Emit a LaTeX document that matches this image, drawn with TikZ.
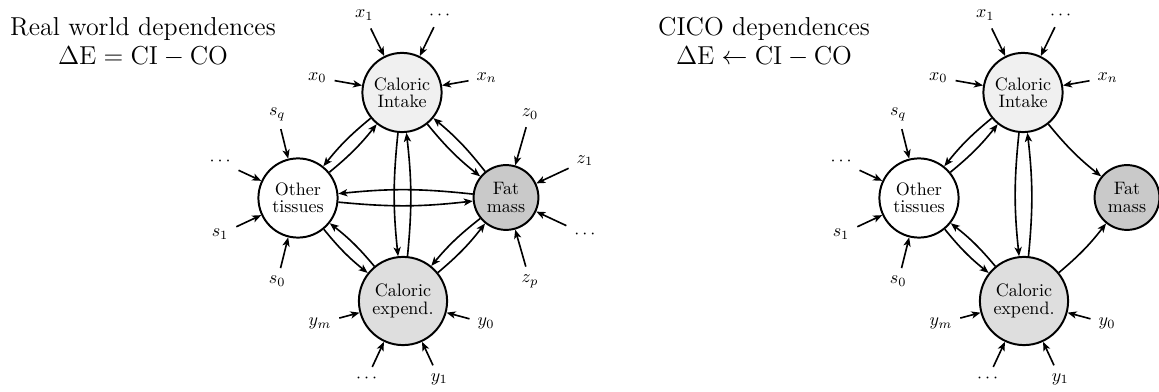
\documentclass[tikz,border=0pt]{standalone}
\usetikzlibrary{arrows.meta,calc}
\begin{document}
\begin{tikzpicture}[x=0.5556pt,y=0.5556pt,
  every node/.style={font=\fontsize{10}{9.6}\selectfont},
  state/.style={circle,draw,line width=1.1pt,align=center,inner sep=0pt},
  intake/.style={state,fill=black!6,minimum size=44pt},
  tissue/.style={state,fill=white,minimum size=44pt},
  fat/.style={state,fill=black!21,minimum size=36pt},
  expend/.style={state,fill=black!13,minimum size=49pt},
  conn/.style={-{Stealth[length=5pt,width=4pt,inset=1.3pt]},line width=0.9pt},
  inarr/.style={conn,shorten <=1pt},
  heading/.style={anchor=north,inner sep=0pt,align=center,font=\fontsize{14.4}{16}\selectfont}]

\useasboundingbox (0,0) rectangle (1159,391);
\fill[white] (0,0) rectangle (1159,391);

% headings
\node[heading] (LT) at (143,374) {Real world dependences\\$\Delta\mathrm{E} = \mathrm{CI} - \mathrm{CO}$};
\node[heading] (RT) at (764,374) {CICO dependences\\$\Delta\mathrm{E} \leftarrow \mathrm{CI} - \mathrm{CO}$};

% the four compartments of both models
\foreach \p/\dx in {L/0,R/621} {
  \node[intake] (\p I) at (402+\dx,298.5) {Caloric\\Intake};
  \node[tissue] (\p O) at (298+\dx,193) {Other\\tissues};
  \node[fat]    (\p F) at (506+\dx,193.5) {Fat\\mass};
  \node[expend] (\p E) at (403+\dx,90) {Caloric\\expend.};

  % external inputs
  \foreach \a/\t [count=\k] in {170/x_0,116/x_1,64/\cdots,10/x_n} {
    \node (\p x\k) at ($(\p I)+(\a:86)$) {$\t$};
    \draw[inarr] (\p x\k) -- (\p I);
  }
  \foreach \a/\t [count=\k] in {104/s_q,155/\cdots,205/s_1,256/s_0} {
    \node (\p s\k) at ($(\p O)+(\a:86)$) {$\t$};
    \draw[inarr] (\p s\k) -- (\p O);
  }
  \foreach \a/\t [count=\k] in {195/y_m,245/\cdots,295/y_1,345/y_0} {
    \node (\p y\k) at ($(\p E)+(\a:86)$) {$\t$};
    \draw[inarr] (\p y\k) -- (\p E);
  }

  % shared dependences
  \foreach \a/\b in {I/O,O/I,I/E,E/I,O/E,E/O}
    \draw[conn] (\p\a) to[bend right=6] (\p\b);
}

% fat mass inputs (real world model only)
\foreach \a/\t [count=\k] in {74/z_0,25/z_1,-25/\cdots,-74/z_p} {
  \node (Lz\k) at ($(LF)+(\a:87)$) {$\t$};
  \draw[inarr] (Lz\k) -- (LF);
}

% fat mass dependences, real world model
\foreach \a/\b in {I/F,F/I,O/F,F/O,E/F,F/E}
  \draw[conn] (L\a) to[bend right=6] (L\b);

% fat mass dependences, CICO model
\foreach \a/\b in {I/F,E/F}
  \draw[conn] (R\a) to[bend right=6] (R\b);

\end{tikzpicture}
\end{document}
